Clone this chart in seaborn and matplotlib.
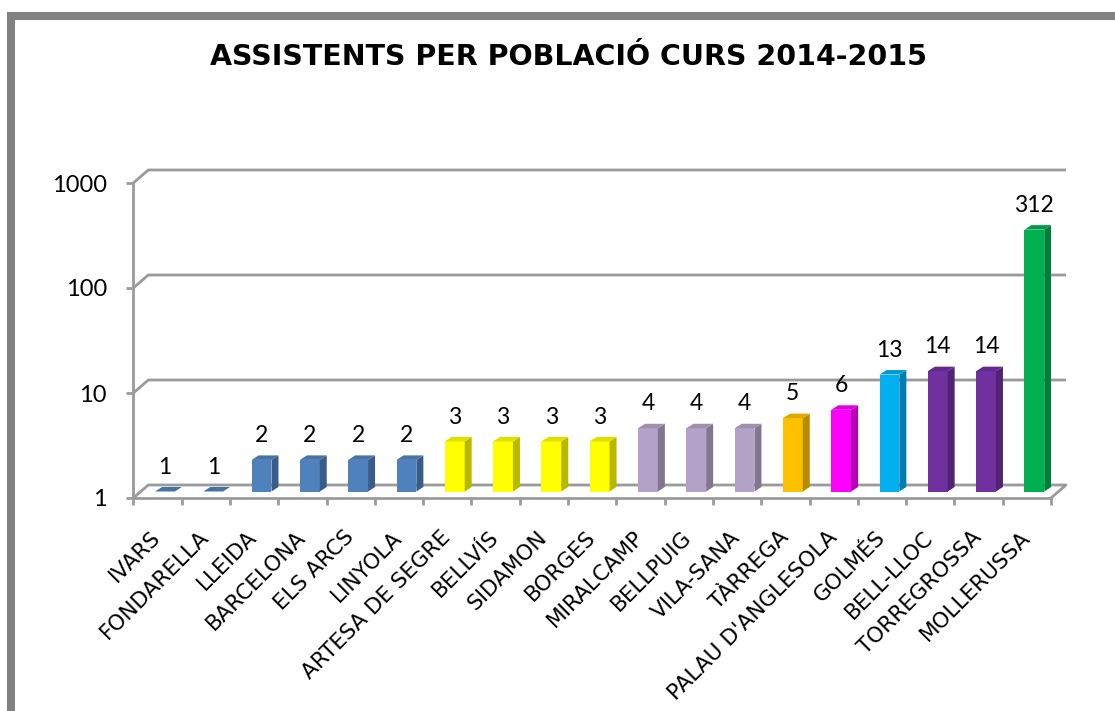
import numpy as np
import matplotlib
matplotlib.use("Agg")
import matplotlib.pyplot as plt
import matplotlib.colors as mcolors
from matplotlib.patches import Polygon, Rectangle
import seaborn as sns

# data
poblacions = ["IVARS", "FONDARELLA", "LLEIDA", "BARCELONA", "ELS ARCS", "LINYOLA",
              "ARTESA DE SEGRE", "BELLVÍS", "SIDAMON", "BORGES", "MIRALCAMP",
              "BELLPUIG", "VILA-SANA", "TÀRREGA", "PALAU D'ANGLESOLA", "GOLMÉS",
              "BELL-LLOC", "TORREGROSSA", "MOLLERUSSA"]
assistents = [1, 1, 2, 2, 2, 2, 3, 3, 3, 3, 4, 4, 4, 5, 6, 13, 14, 14, 312]
colors = ["#4F81BD"] * 6 + ["#FFFF00"] * 4 + ["#B3A2C7"] * 3 + \
         ["#FFC000", "#FF00FF", "#00B0F0", "#7030A0", "#7030A0", "#00B050"]
y_ticks = [1, 10, 100, 1000]

sns.set_style("white")
plt.rcParams["font.family"] = ["DejaVu Sans"]
plt.rcParams["text.color"] = "black"
plt.rcParams["xtick.labelcolor"] = "black"
plt.rcParams["ytick.labelcolor"] = "black"

fig = plt.figure(figsize=(11.15, 7.11), dpi=100)
ax = fig.add_axes([133.3 / 1115, 1 - 498 / 711, 917.7 / 1115, 315 / 711])

sns.barplot(x=poblacions, y=assistents, hue=poblacions, palette=colors,
            legend=False, width=0.41, saturation=1, linewidth=0, ax=ax)
ax.set_yscale("log")
ax.set_ylim(1, 1000)
ax.set_xlim(-0.5, len(poblacions) - 0.5)

# fake 3d depth, in data units (axes size is fixed)
px_x = 1 / 48.3          # categories per pixel
px_y = 1 / 105.0         # decades per pixel
DX = 15 * px_x
DY = 10 ** (13 * px_y)
B = np.sqrt(DY)          # bars sit halfway into the floor
bdx = 7 * px_x
bdy = 10 ** (4.5 * px_y)

grid_col = "#9a9a9a"
x_left, x_right = -0.5, len(poblacions) - 0.5
for v in y_ticks:
    ax.plot([x_left, x_left + DX, x_right + DX], [v, v * DY, v * DY],
            color=grid_col, lw=2, clip_on=False, zorder=1, solid_capstyle="butt")
ax.plot([x_right, x_right + DX], [1, DY], color=grid_col, lw=2, clip_on=False, zorder=1)

bars = [p for c in ax.containers for p in c]
for p, v, c in zip(bars, assistents, colors):
    x0 = p.get_x() + DX / 2
    w = p.get_width()
    x1 = x0 + w
    yb, yt = B, v * B
    p.set_x(x0)
    p.set_y(yb)
    p.set_height(yt - yb)
    p.set_zorder(3)
    rgb = np.array(mcolors.to_rgb(c))
    side = Polygon([(x1, yb), (x1 + bdx, yb * bdy), (x1 + bdx, yt * bdy), (x1, yt)],
                   closed=True, fc=rgb * 0.72, ec="none", zorder=3)
    top = Polygon([(x0, yt), (x1, yt), (x1 + bdx, yt * bdy), (x0 + bdx, yt * bdy)],
                  closed=True, fc=rgb * 0.88, ec="none", zorder=4)
    ax.add_patch(side)
    ax.add_patch(top)
    ax.annotate(str(v), (x0 + w / 2, yt), xytext=(0, 17.5), textcoords="offset points",
                ha="center", va="center", fontsize=16.5, family=["Lato", "DejaVu Sans"],
                annotation_clip=False)

# axes styling
for s in ["top", "right"]:
    ax.spines[s].set_visible(False)
for s in ["left", "bottom"]:
    ax.spines[s].set_color(grid_col)
    ax.spines[s].set_linewidth(2)
    ax.spines[s].set_zorder(2)

ax.set_yticks(y_ticks)
ax.set_yticklabels([str(t) for t in y_ticks], family=["Lato", "DejaVu Sans"], fontsize=17)
ax.yaxis.set_minor_locator(matplotlib.ticker.NullLocator())
ax.tick_params(axis="y", which="major", length=5, width=2, color=grid_col, pad=14, left=True)

ax.set_xticks(range(len(poblacions)))
ax.set_xticklabels(poblacions, rotation=45, ha="right", va="center",
                   rotation_mode="anchor", fontsize=15.5)
ax.set_xticks(np.arange(-0.5, len(poblacions)), minor=True)
ax.tick_params(axis="x", which="major", length=0, pad=26)
ax.tick_params(axis="x", which="minor", length=5, width=2, color=grid_col, bottom=True)
ax.set_xlabel("")
ax.set_ylabel("")
ax.grid(False)

fig.text(0.510, 1 - 57 / 711, "ASSISTENTS PER POBLACIÓ CURS 2014-2015",
         ha="center", va="center", fontsize=20.5, fontweight="bold", color="black")

# outer chart frame (only top and left edges are visible in the crop)
fig.add_artist(Rectangle((11 / 1115, -0.2), 2, 1.2 - 16 / 711, transform=fig.transFigure,
                         fill=False, ec="#808080", lw=5.8))

fig.savefig("out.png", dpi=100)
